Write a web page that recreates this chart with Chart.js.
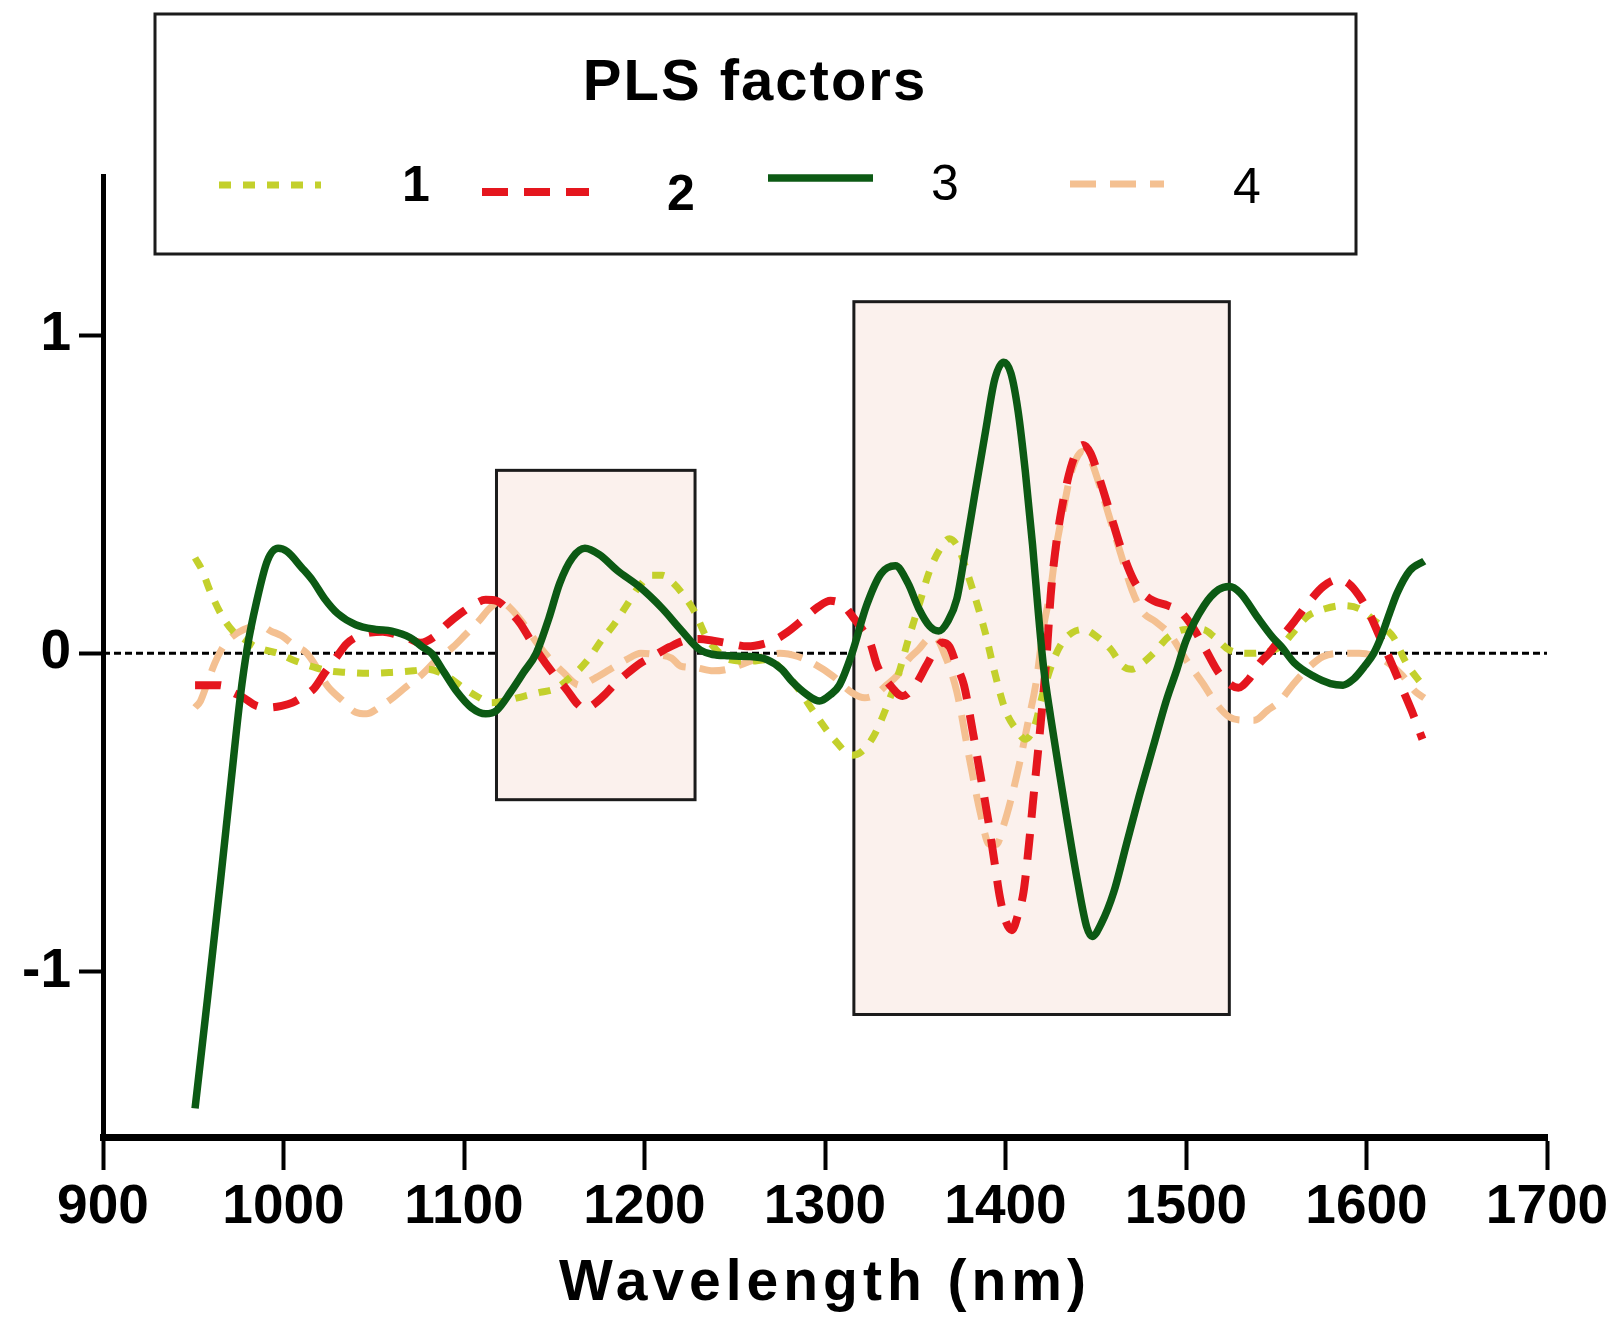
<!DOCTYPE html>
<html>
<head>
<meta charset="utf-8">
<script src="https://cdn.jsdelivr.net/npm/chart.js@4.4.1/dist/chart.umd.min.js"></script>
<style>
  html, body { margin: 0; padding: 0; background: #ffffff; }
  #wrap { width: 1620px; height: 1340px; position: relative; }
</style>
</head>
<body>
<div id="wrap"><canvas id="chart" width="1620" height="1340"></canvas></div>
<script>
// ---------------- data ----------------
const legendTitle = 'PLS factors';
const seriesLabels = ['1', '2', '3', '4'];
const xAxisTitle = 'Wavelength (nm)';
const xTickValues = [900, 1000, 1100, 1200, 1300, 1400, 1500, 1600, 1700];
const yTickValues = [-1, 0, 1];

// PLS factor 1 (yellow-green dotted)
const wavelength1 = [951, 955, 959, 966, 972, 978, 984, 990, 997, 1005, 1015, 1025, 1035, 1047, 1060, 1072, 1080, 1090, 1100, 1108,
  1115, 1124, 1133, 1142, 1151, 1158, 1164, 1170, 1176, 1183, 1190, 1197, 1204, 1210, 1216, 1222, 1228, 1234, 1240, 1247,
  1258, 1268, 1276, 1285, 1294, 1305, 1315, 1320, 1327, 1334, 1341, 1346, 1352, 1358, 1364, 1369, 1374, 1379, 1384, 1389,
  1394, 1400, 1406, 1411, 1416, 1421, 1426, 1431, 1437, 1443, 1450, 1458, 1465, 1470, 1476, 1482, 1490, 1500, 1509, 1516,
  1524, 1535, 1545, 1552, 1560, 1567, 1577, 1587, 1596, 1605, 1611, 1615, 1622, 1631];
const factor1 = [0.30, 0.26, 0.20, 0.117, 0.07, 0.045, 0.022, 0.01, 0.0, -0.02, -0.04, -0.055, -0.06, -0.063, -0.06, -0.055, -0.05, -0.07, -0.11, -0.138,
  -0.155, -0.148, -0.135, -0.123, -0.11, -0.08, -0.05, -0.01, 0.04, 0.09, 0.15, 0.21, 0.245, 0.245, 0.22, 0.18, 0.128, 0.054, 0.01, -0.02,
  -0.025, -0.02, -0.05, -0.11, -0.186, -0.27, -0.32, -0.31, -0.26, -0.17, -0.06, 0.04, 0.15, 0.26, 0.33, 0.36, 0.33, 0.25, 0.16, 0.06,
  -0.06, -0.18, -0.24, -0.27, -0.23, -0.12, -0.03, 0.03, 0.065, 0.075, 0.055, 0.015, -0.04, -0.05, -0.03, 0.0, 0.05, 0.075, 0.075, 0.05,
  0.01, 0.0, 0.005, 0.02, 0.07, 0.115, 0.14, 0.15, 0.14, 0.10, 0.075, 0.05, -0.03, -0.10];

// PLS factor 2 (red dashed)
const wavelength2 = [951, 958, 965, 971, 978, 985, 992, 999, 1005, 1011, 1017, 1023, 1029, 1035, 1041, 1048, 1055, 1062, 1070, 1076,
  1083, 1090, 1098, 1106, 1112, 1118, 1124, 1131, 1137, 1142, 1149, 1157, 1163, 1167, 1172, 1178, 1183, 1190, 1198, 1205,
  1214, 1222, 1230, 1238, 1248, 1257, 1266, 1273, 1279, 1288, 1296, 1303, 1310, 1316, 1320, 1325, 1329, 1336, 1343, 1350,
  1356, 1361, 1365, 1369, 1373, 1377, 1382, 1386, 1390, 1394, 1397, 1400, 1403.5, 1407, 1410, 1413, 1415, 1419, 1423, 1425,
  1428, 1431, 1436, 1440, 1443, 1447, 1452, 1458, 1464, 1471, 1476, 1482, 1490, 1497, 1504, 1511, 1518, 1525, 1529, 1535,
  1541, 1546, 1552, 1560, 1568, 1576, 1584, 1590, 1596, 1602, 1607.5, 1613, 1619, 1625, 1631];
const factor2 = [-0.10, -0.10, -0.10, -0.12, -0.14, -0.165, -0.17, -0.165, -0.155, -0.135, -0.11, -0.06, -0.015, 0.03, 0.053, 0.065, 0.068, 0.06, 0.045, 0.033,
  0.05, 0.088, 0.125, 0.155, 0.168, 0.165, 0.138, 0.095, 0.04, -0.005, -0.06, -0.115, -0.16, -0.175, -0.16, -0.13, -0.10, -0.065, -0.03, -0.008,
  0.02, 0.04, 0.045, 0.04, 0.03, 0.022, 0.03, 0.045, 0.066, 0.107, 0.145, 0.165, 0.152, 0.11, 0.08, 0.034, -0.04, -0.10, -0.134, -0.10,
  -0.04, 0.01, 0.034, 0.02, -0.04, -0.10, -0.25, -0.38, -0.51, -0.66, -0.77, -0.84, -0.87, -0.82, -0.75, -0.60, -0.48, -0.25, 0.01, 0.18,
  0.34, 0.45, 0.58, 0.64, 0.655, 0.63, 0.55, 0.44, 0.33, 0.23, 0.19, 0.165, 0.15, 0.13, 0.08, 0.01, -0.06, -0.10, -0.108, -0.08,
  -0.03, 0.0, 0.044, 0.10, 0.16, 0.21, 0.232, 0.22, 0.18, 0.12, 0.05, -0.02, -0.10, -0.18, -0.27];

// PLS factor 3 (dark green solid)
const wavelength3 = [951, 958, 965, 971, 976, 980, 985, 991, 997, 1002, 1010, 1016, 1023, 1030, 1040, 1051, 1060, 1070, 1077, 1082,
  1089, 1096, 1104, 1112, 1118, 1126, 1133, 1140, 1147, 1153, 1160, 1167, 1175, 1185, 1197, 1210, 1220, 1231, 1247, 1258,
  1268, 1276, 1282, 1290, 1297, 1303, 1308, 1315, 1323, 1331, 1339, 1346, 1352, 1358, 1363, 1368, 1373, 1378, 1383, 1389,
  1394, 1399, 1403, 1407, 1411, 1415, 1418, 1421, 1425, 1430, 1434, 1440, 1445, 1448, 1453, 1460, 1467, 1474, 1482, 1489,
  1495, 1500, 1510, 1518, 1524, 1530, 1540, 1548, 1553, 1560, 1570, 1580, 1587, 1593, 1599, 1604, 1608, 1613, 1617, 1624, 1632];
const factor3 = [-1.43, -1.08, -0.72, -0.40, -0.14, 0.02, 0.16, 0.29, 0.33, 0.32, 0.27, 0.23, 0.17, 0.125, 0.09, 0.075, 0.07, 0.05, 0.02, 0.0,
  -0.06, -0.12, -0.17, -0.19, -0.18, -0.12, -0.06, 0.0, 0.11, 0.22, 0.30, 0.33, 0.31, 0.26, 0.21, 0.14, 0.075, 0.01, -0.008, -0.01,
  -0.02, -0.05, -0.09, -0.13, -0.15, -0.13, -0.10, 0.0, 0.15, 0.25, 0.275, 0.22, 0.14, 0.085, 0.07, 0.10, 0.17, 0.33, 0.50, 0.70,
  0.86, 0.915, 0.88, 0.76, 0.57, 0.34, 0.14, -0.04, -0.20, -0.38, -0.52, -0.72, -0.86, -0.89, -0.85, -0.75, -0.60, -0.45, -0.29, -0.15,
  -0.05, 0.04, 0.15, 0.20, 0.21, 0.19, 0.11, 0.05, 0.02, -0.03, -0.07, -0.095, -0.10, -0.08, -0.04, 0.0, 0.05, 0.13, 0.19, 0.26, 0.29];

// PLS factor 4 (light orange dashed)
const wavelength4 = [951, 954, 958, 962, 966, 970, 978, 987, 993, 999, 1006, 1013, 1019, 1024, 1033, 1040, 1046, 1053, 1061, 1068,
  1076, 1085, 1094, 1101, 1108, 1114, 1120, 1126, 1132, 1137, 1142, 1148, 1155, 1164, 1172, 1181, 1190, 1198, 1207, 1215,
  1220, 1228, 1238, 1246, 1256, 1266, 1275, 1285, 1293, 1304, 1315, 1322, 1328, 1334, 1340, 1346, 1352, 1357, 1361, 1366,
  1373, 1380, 1386, 1391, 1395, 1399, 1403, 1408, 1412, 1417, 1421, 1425, 1428, 1432, 1436, 1440, 1443, 1447, 1452, 1458,
  1464, 1470, 1476, 1483, 1491, 1500, 1509, 1517, 1524, 1532, 1538, 1545, 1552, 1559, 1567, 1576, 1586, 1596, 1605, 1612,
  1620, 1627, 1632];
const factor4 = [-0.17, -0.15, -0.09, -0.03, 0.015, 0.045, 0.075, 0.088, 0.07, 0.055, 0.025, 0.0, -0.05, -0.10, -0.15, -0.185, -0.19, -0.17, -0.138, -0.105,
  -0.07, -0.02, 0.02, 0.06, 0.10, 0.14, 0.164, 0.14, 0.10, 0.06, 0.02, -0.02, -0.06, -0.10, -0.08, -0.05, -0.02, 0.0, -0.005, -0.015,
  -0.04, -0.045, -0.055, -0.05, -0.03, -0.01, 0.0, -0.01, -0.03, -0.07, -0.124, -0.14, -0.13, -0.10, -0.07, -0.02, 0.013, 0.045, 0.05, 0.0,
  -0.12, -0.33, -0.50, -0.60, -0.60, -0.54, -0.46, -0.34, -0.23, -0.09, 0.08, 0.20, 0.33, 0.45, 0.56, 0.62, 0.635, 0.61, 0.53, 0.42,
  0.31, 0.20, 0.13, 0.10, 0.06, -0.02, -0.092, -0.16, -0.20, -0.21, -0.21, -0.18, -0.15, -0.10, -0.05, -0.01, 0.0, 0.0, -0.01, -0.03,
  -0.07, -0.12, -0.14];

// highlighted wavelength regions (data units)
const regionStart = [1118, 1316];
const regionEnd = [1228, 1524];
const regionLow = [-0.46, -1.135];
const regionHigh = [0.575, 1.105];

// ---------------- chart ----------------
const FONT = '"Liberation Sans", Arial, Helvetica, sans-serif';
Chart.defaults.font.family = FONT;
Chart.defaults.color = '#000';

const toPoints = (xs, ys) => xs.map((x, i) => ({ x: x, y: ys[i] }));

const regionPlugin = {
  id: 'regions',
  afterDatasetDraw(chart, args) {
    if (args.index !== 4) return; // right after the zero line
    const { ctx, scales: { x, y } } = chart;
    ctx.save();
    for (let i = 0; i < regionStart.length; i++) {
      const l = x.getPixelForValue(regionStart[i]);
      const r = x.getPixelForValue(regionEnd[i]);
      const t = y.getPixelForValue(regionHigh[i]);
      const b = y.getPixelForValue(regionLow[i]);
      ctx.fillStyle = '#fbf1ed';
      ctx.fillRect(l, t, r - l, b - t);
      ctx.lineWidth = 3;
      ctx.strokeStyle = '#1b1b1b';
      ctx.strokeRect(l, t, r - l, b - t);
    }
    ctx.restore();
  }
};

const legendPlugin = {
  id: 'boxLegend',
  afterDraw(chart) {
    const ctx = chart.ctx;
    ctx.save();
    ctx.fillStyle = '#ffffff';
    ctx.fillRect(155, 14, 1201, 240);
    ctx.lineWidth = 3;
    ctx.strokeStyle = '#1b1b1b';
    ctx.strokeRect(155, 14, 1201, 240);
    ctx.fillStyle = '#000';
    ctx.textAlign = 'center';
    ctx.textBaseline = 'alphabetic';
    ctx.font = 'bold 58px ' + FONT;
    ctx.letterSpacing = '2px';
    ctx.fillText(legendTitle, 755, 100);
    ctx.letterSpacing = '0px';
    const layout = [
      { x0: 219, x1: 321, y: 185, tx: 416, ty: 201, w: 'bold' },
      { x0: 482, x1: 589, y: 192, tx: 681, ty: 210, w: 'bold' },
      { x0: 768, x1: 873, y: 178, tx: 945, ty: 200, w: 'normal' },
      { x0: 1070, x1: 1164, y: 184, tx: 1247, ty: 203, w: 'normal' }
    ];
    seriesLabels.forEach((lab, i) => {
      const ds = chart.data.datasets.find(d => d.label === lab);
      const p = layout[i];
      ctx.save();
      ctx.beginPath();
      ctx.setLineDash(ds.borderDash || []);
      ctx.lineWidth = ds.borderWidth;
      ctx.strokeStyle = ds.borderColor;
      ctx.lineCap = 'butt';
      ctx.moveTo(p.x0, p.y);
      ctx.lineTo(p.x1, p.y);
      ctx.stroke();
      ctx.restore();
      ctx.fillStyle = '#000';
      ctx.font = p.w + ' 50px ' + FONT;
      ctx.fillText(lab, p.tx, p.ty);
    });
    ctx.restore();
  }
};

const titleSpacing = {
  id: 'titleSpacing',
  beforeDraw(chart) {
    const s = chart.scales.x;
    if (s && !s.__spaced) {
      const orig = s.drawTitle;
      s.drawTitle = function (...a) {
        const c = this.ctx;
        c.save();
        c.letterSpacing = '5px';
        orig.apply(this, a);
        c.restore();
      };
      s.__spaced = true;
    }
  }
};

const lineBase = { pointRadius: 0, pointHoverRadius: 0, fill: false, cubicInterpolationMode: 'monotone', borderJoinStyle: 'round' };

new Chart(document.getElementById('chart'), {
  type: 'line',
  data: {
    datasets: [
      Object.assign({}, lineBase, { label: seriesLabels[2], data: toPoints(wavelength3, factor3), borderColor: '#0c5a14', borderWidth: 7.5 }),
      Object.assign({}, lineBase, { label: seriesLabels[1], data: toPoints(wavelength2, factor2), borderColor: '#e5161e', borderWidth: 8, borderDash: [26, 16] }),
      Object.assign({}, lineBase, { label: seriesLabels[0], data: toPoints(wavelength1, factor1), borderColor: '#c3d02c', borderWidth: 7, borderDash: [12, 12] }),
      Object.assign({}, lineBase, { label: seriesLabels[3], data: toPoints(wavelength4, factor4), borderColor: '#f4c091', borderWidth: 7, borderDash: [26, 14] }),
      Object.assign({}, lineBase, { label: 'zero', data: [{ x: xTickValues[0], y: 0 }, { x: xTickValues[xTickValues.length - 1], y: 0 }], borderColor: '#000', borderWidth: 3, borderDash: [7, 4], cubicInterpolationMode: 'default', tension: 0 })
    ]
  },
  options: {
    responsive: false,
    animation: false,
    devicePixelRatio: 1,
    layout: { padding: { left: 0, right: 73, top: 176, bottom: 0 } },
    plugins: { legend: { display: false }, tooltip: { enabled: false }, title: { display: false } },
    scales: {
      x: {
        type: 'linear',
        min: xTickValues[0],
        max: xTickValues[xTickValues.length - 1],
        afterBuildTicks: s => { s.ticks = xTickValues.map(v => ({ value: v })); },
        afterFit: s => { s.height = 203; },
        ticks: { font: { size: 55, weight: 'bold' }, color: '#000', padding: 5, maxRotation: 0, autoSkip: false, callback: v => String(v) },
        grid: { display: true, drawOnChartArea: false, drawTicks: true, tickLength: 33, tickWidth: 4, tickColor: '#000' },
        border: { display: true, width: 7, color: '#000' },
        title: { display: true, text: xAxisTitle, font: { size: 57, weight: 'bold' }, color: '#000', padding: { top: 4, bottom: 22 } }
      },
      y: {
        type: 'linear',
        min: -1.52,
        max: 1.5,
        afterBuildTicks: s => { s.ticks = yTickValues.map(v => ({ value: v })); },
        afterFit: s => { s.width = 103; },
        ticks: { font: { size: 55, weight: 'bold' }, color: '#000', padding: 8, callback: v => String(v) },
        grid: { display: true, drawOnChartArea: false, drawTicks: true, tickLength: 24, tickWidth: 4, tickColor: '#000' },
        border: { display: true, width: 5, color: '#000' }
      }
    }
  },
  plugins: [regionPlugin, legendPlugin, titleSpacing]
});
</script>
</body>
</html>
